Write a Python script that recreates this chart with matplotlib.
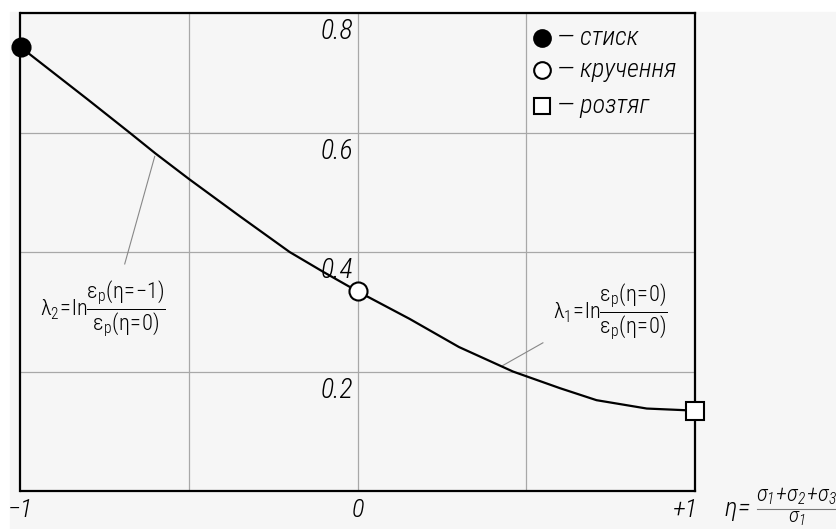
import numpy as np
import matplotlib.pyplot as plt
from matplotlib.patches import Rectangle
from matplotlib.lines import Line2D

# Параметр напруженого стану та відносний показник
eta = [-1, -0.9, -0.8, -0.677, -0.6, -0.5, -0.35, -0.202, -0.1, 0,
       0.154, 0.3, 0.46, 0.6, 0.708, 0.857, 1]
lam = [0.743, 0.699, 0.655, 0.6, 0.565, 0.522, 0.46, 0.4, 0.366, 0.334,
       0.288, 0.241, 0.2, 0.172, 0.152, 0.138, 0.1345]

# Характерні точки: стиск, кручення, розтяг
pts_eta = [-1, 0, 1]
pts_lam = [0.743, 0.334, 0.1345]
pts_names = ['стиск', 'кручення', 'розтяг']
pts_marker = ['o', 'o', 's']
pts_face = ['black', 'white', 'white']

y_ticks = [0.2, 0.4, 0.6, 0.8]
x_ticks = [-1, 0, 1]
x_tick_labels = ['−1', '0', '+1']

bg = '#f6f6f6'
fams = ['Roboto Condensed', 'Roboto', 'DejaVu Sans']
ital = dict(family=fams, style='italic', stretch='condensed', weight='light')
upr = dict(family=fams, stretch='condensed', weight='light')

fig = plt.figure(figsize=(8.37, 5.29), dpi=100, facecolor='white')
fig.patches.append(Rectangle((10 / 837, 0), 1, 1 - 12 / 529,
                             transform=fig.transFigure, color=bg, zorder=-10))
ax = fig.add_axes([20.5 / 837, 1 - 491 / 529, (695 - 20.5) / 837, (491 - 13) / 529])
ax.set_facecolor(bg)
ax.set_xlim(-1, 1)
ax.set_ylim(0, 0.8)

for s in ax.spines.values():
    s.set_linewidth(1.6)
    s.set_color('black')
ax.set_xticks([-0.5, 0, 0.5])
ax.set_yticks(y_ticks)
ax.tick_params(length=0, labelbottom=False, labelleft=False)
ax.grid(True, color='#a8a8a8', linewidth=0.9)

# Крива
ax.plot(eta, lam, color='black', linewidth=1.6, zorder=3)

for x, y, m, fc in zip(pts_eta, pts_lam, pts_marker, pts_face):
    ax.plot(x, y, marker=m, markersize=13 if m == 'o' else 12.5,
            markerfacecolor=fc, markeredgecolor='black',
            markeredgewidth=1.5, clip_on=False, zorder=5)

# Підписи осі y
for v in y_ticks:
    ax.text(-0.012, v - 0.009, f'{v:.1f}', ha='right', va='top',
            fontsize=20, **ital)

# Підписи осі x
for v, t in zip(x_ticks, x_tick_labels):
    ha = 'right' if v == 1 else 'center'
    xx = 1.008 if v == 1 else v
    ax.text(xx, -0.031, t, ha=ha, va='center', fontsize=19,
            clip_on=False, **ital)

# Умовні позначення
leg_y = [0.758, 0.705, 0.645]
for name, m, fc, y in zip(pts_names, pts_marker, pts_face, leg_y):
    ax.plot(0.546, y, marker=m, markersize=12 if m == 'o' else 11.5,
            markerfacecolor=fc, markeredgecolor='black',
            markeredgewidth=1.5, zorder=5)
    ax.text(0.592, y, '— ' + name, ha='left', va='center',
            fontsize=19, **ital)

# Формули з виносками
ax.plot([-0.602, -0.691], [0.56, 0.38], color='#888888', linewidth=0.8)
ax.text(-0.757, 0.305,
        r'$\mathregular{\lambda_2\!=\!ln\dfrac{\epsilon_p(\eta\!=\!{-}1)}{\epsilon_p(\eta\!=\!0)}}$',
        ha='center', va='center', fontsize=16, **upr)
ax.plot([0.43, 0.549], [0.21, 0.248], color='#888888', linewidth=0.8)
ax.text(0.75, 0.30,
        r'$\mathregular{\lambda_1\!=\!ln\dfrac{\epsilon_p(\eta\!=\!0)}{\epsilon_p(\eta\!=\!0)}}$',
        ha='center', va='center', fontsize=16, **upr)

# Позначення осі x
fig.text(737 / 837, 1 - 511 / 529, r'$\mathregular{\eta\!=\!}$', ha='center',
         va='center', fontsize=19, **ital)
fig.text(797 / 837, 1 - 496 / 529,
         r'$\mathregular{\sigma_1\!+\!\sigma_2\!+\!\sigma_3}$',
         ha='center', va='center', fontsize=16, **ital)
fig.lines.append(Line2D([757 / 837, 836 / 837], [1 - 509 / 529, 1 - 509 / 529],
                        transform=fig.transFigure, color='#777777', linewidth=0.8))
fig.text(797 / 837, 1 - 518 / 529, r'$\mathregular{\sigma_1}$',
         ha='center', va='center', fontsize=15, **ital)

fig.savefig('out.png', dpi=100, facecolor='white')
